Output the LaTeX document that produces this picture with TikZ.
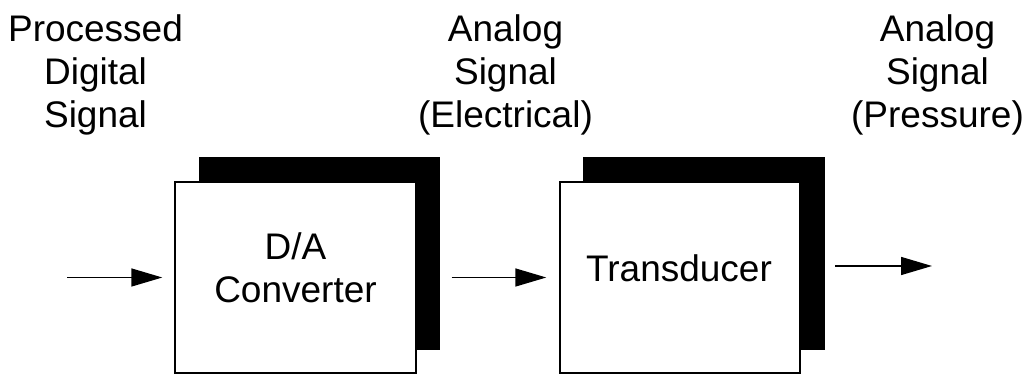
\documentclass[tikz,border=0pt]{standalone}
\usepackage{fontspec}
\setmainfont{Liberation Sans}
\usetikzlibrary{arrows.meta}
\begin{document}
\begin{tikzpicture}[x=1pt,y=1pt,
  lbl/.style={align=center, inner sep=0pt, font=\fontsize{37}{42.6}\selectfont},
  blk/.style={draw=black, fill=white, line width=1.4pt, inner sep=0pt, minimum height=191pt},
  shade/.style={fill=black, draw=none},
  arr/.style={line width=1.5pt, -{Triangle[length=31pt,width=18pt]}}]
\useasboundingbox (0,0) rectangle (1029,374);
% shadows
\fill[shade] (199,24) rectangle (440,217);
\fill[shade] (583,24) rectangle (825,217);
% boxes
\node[blk, minimum width=241pt] (box1) at (295.5,96.5) {};
\node[blk, minimum width=240pt] (box2) at (680,96.5) {};
% box texts
\node[lbl] (t1) at (295.5,106.5) {D/A\\Converter};
\node[lbl] (t2) at (679,106) {Transducer};
% labels
\node[lbl] (l1) at (95.5,299) {Processed\\Digital\\Signal};
\node[lbl] (l2) at (505.5,299) {Analog\\Signal\\(Electrical)};
\node[lbl] (l3) at (937.5,299) {Analog\\Signal\\(Pressure)};
% connectors
\coordinate (in1) at (67,96.5);
\draw[arr, shorten >=12pt] (in1) -- (box1.west);
\draw[arr, shorten <=35pt, shorten >=13pt] (box1.east) -- (box2.west);
\coordinate (o1) at (835,108);
\coordinate (o2) at (932,108);
\draw[arr] (o1) -- (o2);
\end{tikzpicture}
\end{document}
